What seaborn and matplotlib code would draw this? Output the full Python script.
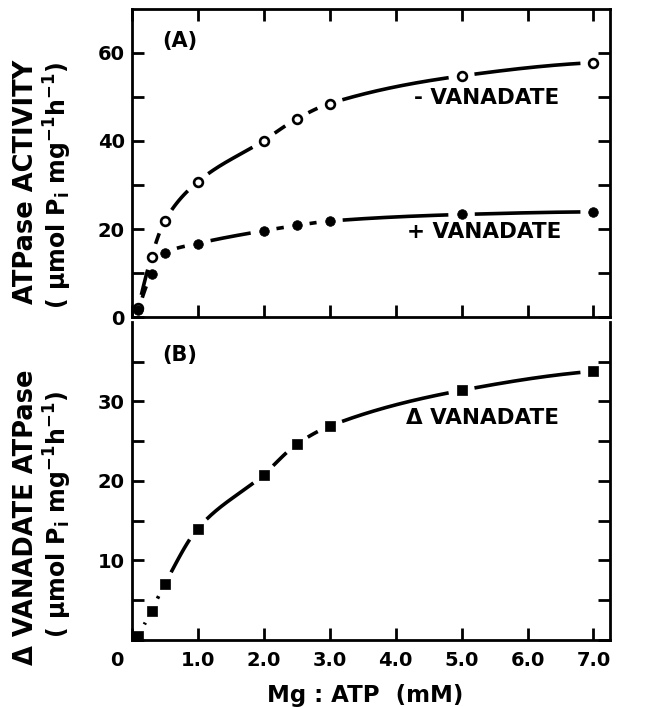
import numpy as np
import pandas as pd
import matplotlib
matplotlib.use("Agg")
import matplotlib.pyplot as plt
import seaborn as sns
from matplotlib.transforms import ScaledTranslation

# Mg:ATP concentration (mM) and measured ATPase activities
mg_atp = [0.1, 0.3, 0.5, 1.0, 2.0, 2.5, 3.0, 5.0, 7.0]
activity_minus_vanadate = [2.0, 13.7, 21.8, 30.7, 40.1, 45.0, 48.5, 54.8, 57.8]
activity_plus_vanadate = [1.5, 9.8, 14.5, 16.7, 19.6, 20.8, 21.8, 23.3, 23.9]
delta_vanadate = [0.5, 3.7, 7.0, 14.0, 20.8, 24.6, 26.9, 31.4, 33.8]

x_ticks = [0, 1, 2, 3, 4, 5, 6, 7]
x_tick_labels = ["0", "1.0", "2.0", "3.0", "4.0", "5.0", "6.0", "7.0"]
top_y_ticks = [0, 10, 20, 30, 40, 50, 60]
top_y_tick_labels = ["0", "", "20", "", "40", "", "60"]
bottom_y_ticks = [0, 5, 10, 15, 20, 25, 30, 35]
bottom_y_tick_labels = ["", "", "10", "", "20", "", "30", ""]

sns.set_style("ticks")
plt.rcParams.update({
    "font.family": ["DejaVu Sans"],
    "font.weight": "bold",
    "mathtext.fontset": "dejavusans",
    "mathtext.default": "bf",
    "axes.linewidth": 2.0,
    "axes.edgecolor": "black",
    "axes.labelcolor": "black",
    "text.color": "black",
    "xtick.color": "black",
    "ytick.color": "black",
})


def smooth_curve(x, y, n=1500):
    """Monotone cubic (PCHIP) curve through the measured points."""
    x = np.asarray(x, float)
    y = np.asarray(y, float)
    h = np.diff(x)
    d = np.diff(y) / h
    m = np.zeros_like(y)
    for k in range(1, len(x) - 1):
        if d[k - 1] * d[k] > 0:
            w1 = 2 * h[k] + h[k - 1]
            w2 = h[k] + 2 * h[k - 1]
            m[k] = (w1 + w2) / (w1 / d[k - 1] + w2 / d[k])
    m[0] = ((2 * h[0] + h[1]) * d[0] - h[0] * d[1]) / (h[0] + h[1])
    if np.sign(m[0]) != np.sign(d[0]):
        m[0] = 0
    m[-1] = ((2 * h[-1] + h[-2]) * d[-1] - h[-1] * d[-2]) / (h[-1] + h[-2])
    if np.sign(m[-1]) != np.sign(d[-1]):
        m[-1] = 0
    xs = np.linspace(x[0], x[-1], n)
    idx = np.clip(np.searchsorted(x, xs) - 1, 0, len(x) - 2)
    t = (xs - x[idx]) / h[idx]
    h00 = 2 * t**3 - 3 * t**2 + 1
    h10 = t**3 - 2 * t**2 + t
    h01 = -2 * t**3 + 3 * t**2
    h11 = t**3 - t**2
    ys = h00 * y[idx] + h10 * h[idx] * m[idx] + h01 * y[idx + 1] + h11 * h[idx] * m[idx + 1]
    return xs, ys


def draw_broken_curve(ax, x, y, gap_px=13.0):
    """Smooth curve through the points, interrupted around every marker."""
    xs, ys = smooth_curve(x, y)
    to_px = ax.transData.transform
    curve_px = to_px(np.column_stack([xs, ys]))
    mark_px = to_px(np.column_stack([x, y]))
    dist = np.hypot(curve_px[:, None, 0] - mark_px[None, :, 0],
                    curve_px[:, None, 1] - mark_px[None, :, 1]).min(axis=1)
    keep = dist > gap_px
    seg = np.cumsum(~keep)
    df = pd.DataFrame({"x": xs[keep], "y": ys[keep], "seg": seg[keep]})
    sns.lineplot(data=df, x="x", y="y", units="seg", estimator=None, sort=False,
                 ax=ax, color="black", linewidth=2.6, zorder=3,
                 solid_capstyle="butt")


def draw_markers(ax, x, y, marker, face, size, lw):
    sns.scatterplot(x=x, y=y, ax=ax, marker=marker, s=size, color=face,
                    edgecolor="black", linewidth=lw, zorder=5,
                    clip_on=False, legend=False)


fig = plt.figure(figsize=(6.54, 7.07), dpi=100)
ax_top = fig.add_axes([0.2014, 0.5516, 0.7313, 0.4357])
ax_bot = fig.add_axes([0.2014, 0.0948, 0.7313, 0.4498])

for ax in (ax_top, ax_bot):
    ax.set_xlim(0, 7.25)
ax_top.set_ylim(0, 70)
ax_bot.set_ylim(0, 40)

# (A) ATPase activity with and without vanadate
draw_broken_curve(ax_top, mg_atp, activity_minus_vanadate)
draw_broken_curve(ax_top, mg_atp, activity_plus_vanadate)
draw_markers(ax_top, mg_atp, activity_minus_vanadate, "o", "white", 40, 1.9)
draw_markers(ax_top, mg_atp, activity_plus_vanadate, "o", "black", 48, 0.5)

# (B) vanadate-sensitive ATPase
draw_broken_curve(ax_bot, mg_atp, delta_vanadate)
draw_markers(ax_bot, mg_atp, delta_vanadate, "s", "black", 42, 0.5)

for ax in (ax_top, ax_bot):
    ax.set_xlim(0, 7.25)
    ax.set_xticks(x_ticks)
    ax.set_xlabel("")
    ax.set_ylabel("")
    ax.tick_params(direction="in", length=8.5, width=2.0, labelsize=14,
                   left=True, right=True, bottom=True)

ax_top.set_ylim(0, 70)
ax_top.set_yticks(top_y_ticks)
ax_top.set_yticklabels(top_y_tick_labels, fontweight="bold")
ax_top.tick_params(top=True, labelbottom=False, pad=5)

ax_bot.set_ylim(0, 40)
ax_bot.set_yticks(bottom_y_ticks)
ax_bot.set_yticklabels(bottom_y_tick_labels, fontweight="bold")
ax_bot.set_xticklabels(x_tick_labels, fontweight="bold")
ax_bot.tick_params(top=False, pad=5)
ax_bot.tick_params(axis="x", pad=8)
ax_bot.spines["top"].set_visible(False)

# the shared origin label sits left of the corner
zero_label = ax_bot.get_xticklabels()[0]
zero_label.set_transform(zero_label.get_transform()
                         + ScaledTranslation(-0.15, 0, fig.dpi_scale_trans))

ax_bot.set_xlabel("Mg : ATP  (mM)", fontsize=16.5, fontweight="bold")
ax_bot.xaxis.set_label_coords(0.488, -0.14)
ax_bot.xaxis.label.set_va("top")

# series and panel labels
ax_top.text(0.73, 62.8, "(A)", fontsize=15, fontweight="bold", ha="center", va="center")
ax_top.text(5.38, 49.8, "- VANADATE", fontsize=15.5, fontweight="bold", ha="center", va="center")
ax_top.text(5.35, 19.4, "+ VANADATE", fontsize=15.5, fontweight="bold", ha="center", va="center")
ax_bot.text(0.73, 35.9, "(B)", fontsize=15, fontweight="bold", ha="center", va="center")
ax_bot.text(5.31, 27.9, "Δ VANADATE", fontsize=15.5, fontweight="bold", ha="center", va="center")

# two-line axis titles
units = r"( $\mu$mol P$_{i}$ mg$^{-1}$h$^{-1}$)"
fig.text(0.0398, 0.7426, "ATPase ACTIVITY", rotation=90, fontsize=18.5,
         fontweight="bold", ha="center", va="center")
fig.text(0.0879, 0.7383, units, rotation=90, fontsize=17,
         fontweight="bold", ha="center", va="center")
fig.text(0.0398, 0.2687, "Δ VANADATE ATPase", rotation=90, fontsize=18.5,
         fontweight="bold", ha="center", va="center")
fig.text(0.0879, 0.2730, units, rotation=90, fontsize=17,
         fontweight="bold", ha="center", va="center")

fig.savefig("out.png", dpi=100, facecolor="white")
